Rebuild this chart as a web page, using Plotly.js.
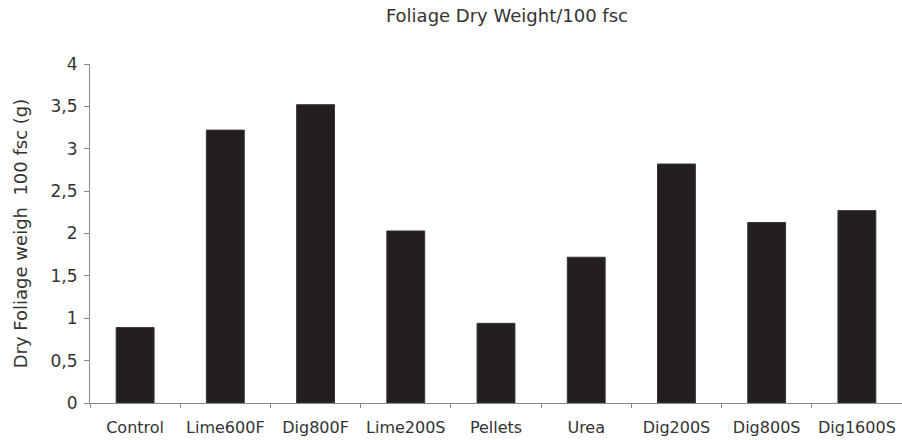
<!DOCTYPE html>
<html>
<head>
<meta charset="utf-8">
<script src="https://cdn.plot.ly/plotly-3.0.1.min.js"></script>
<style>html,body{margin:0;padding:0;background:#fff;}#chart{width:902px;height:440px;}</style>
</head>
<body>
<div id="chart"></div>
<script>
const categories = ["Control", "Lime600F", "Dig800F", "Lime200S", "Pellets", "Urea", "Dig200S", "Dig800S", "Dig1600S"];
const values = [0.89, 3.22, 3.52, 2.03, 0.94, 1.72, 2.82, 2.13, 2.27];
const yTickVals = [0, 0.5, 1, 1.5, 2, 2.5, 3, 3.5, 4];
const yTickText = ["0", "0,5", "1", "1,5", "2", "2,5", "3", "3,5", "4"];

const FONT = "DejaVu Sans, Liberation Sans, Arial, sans-serif";
const trace = {
  type: "bar",
  x: categories,
  y: values,
  marker: {color: "#231f20", line: {color: "#3a3637", width: 1}},
  hoverinfo: "skip"
};
const layout = {
  width: 902, height: 440,
  margin: {l: 90, r: 0, t: 64, b: 37},
  paper_bgcolor: "#fff", plot_bgcolor: "#fff",
  bargap: 0.58,
  showlegend: false,
  font: {family: FONT, color: "#333", size: 16},
  title: {text: "Foliage Dry Weight/100 fsc", x: 0.562, xanchor: "center", y: 0.965, yanchor: "middle", font: {family: FONT, size: 18, color: "#333"}},
  xaxis: {
    type: "category",
    showline: true, linecolor: "#888", linewidth: 1,
    ticks: "outside", tickson: "boundaries", ticklen: 4, tickcolor: "#888",
    ticklabelstandoff: 10,
    showgrid: false, zeroline: false,
    tickfont: {family: FONT, size: 16, color: "#333"}
  },
  yaxis: {
    range: [0, 4],
    tickvals: yTickVals, ticktext: yTickText,
    showline: true, linecolor: "#888", linewidth: 1,
    ticks: "outside", ticklen: 5, tickcolor: "#888",
    ticklabelstandoff: 3,
    showgrid: false, zeroline: false,
    tickfont: {family: FONT, size: 17, color: "#333"},
    title: {text: "Dry Foliage weigh\u00a0\u00a0100 fsc (g)", standoff: 18, font: {family: FONT, size: 18, color: "#333"}}
  }
};
Plotly.newPlot("chart", [trace], layout, {displayModeBar: false, staticPlot: true});
</script>
</body>
</html>
